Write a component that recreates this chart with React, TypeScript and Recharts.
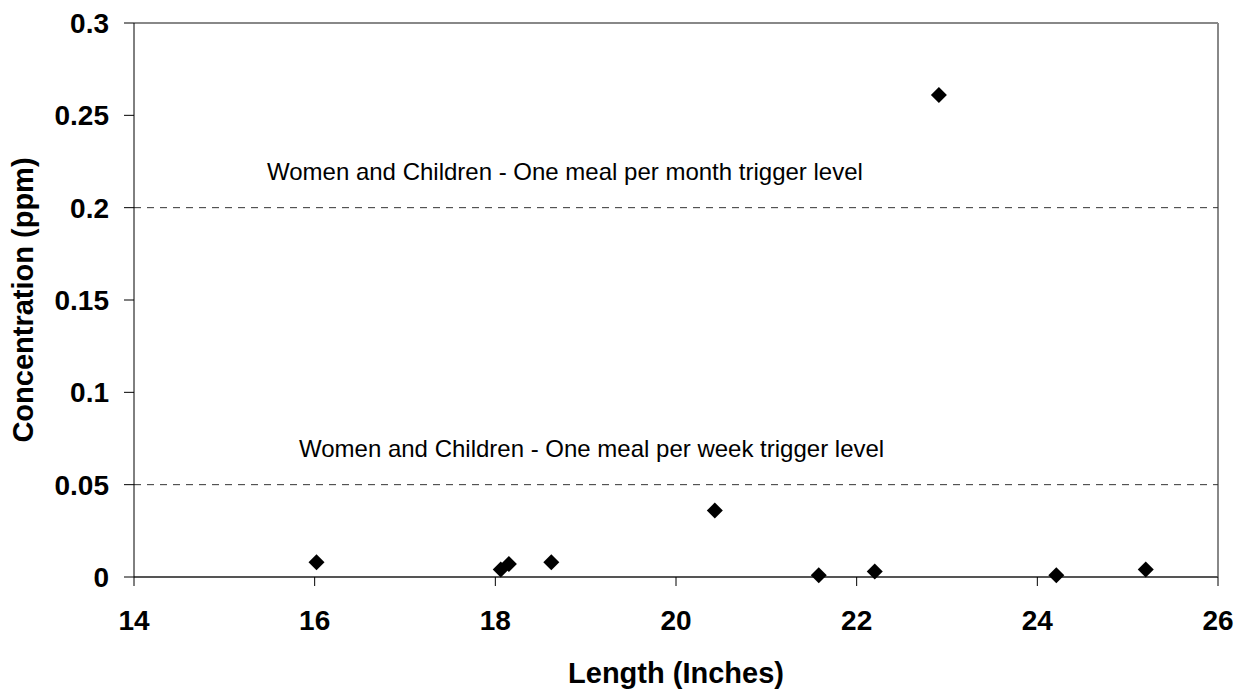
import React from "react";
import {
  ScatterChart,
  Scatter,
  XAxis,
  YAxis,
  ReferenceLine,
  Label,
} from "recharts";

const lengths = [16.02, 18.06, 18.15, 18.62, 20.43, 21.58, 22.2, 22.91, 24.21, 25.2];
const concentrations = [0.008, 0.004, 0.007, 0.008, 0.036, 0.001, 0.003, 0.261, 0.001, 0.004];

const xTicks = [14, 16, 18, 20, 22, 24, 26];
const yTicks = [0, 0.05, 0.1, 0.15, 0.2, 0.25, 0.3];

const triggerLevels = [0.2, 0.05];
const triggerLabels = [
  "Women and Children - One meal per month trigger level",
  "Women and Children - One meal per week trigger level",
];

const FONT = '"Liberation Sans", Arial, sans-serif';

const points = lengths.map((length, i) => ({ length, conc: concentrations[i] }));

const Diamond = (props: any) => {
  const { cx, cy } = props;
  const r = 8;
  return (
    <polygon
      points={`${cx},${cy - r} ${cx + r},${cy} ${cx},${cy + r} ${cx - r},${cy}`}
      fill="#000"
    />
  );
};

export default function App() {
  const tickStyle = { fontFamily: FONT, fontSize: 28, fontWeight: "bold", fill: "#000" };
  const titleStyle = { fontFamily: FONT, fontSize: 29, fontWeight: "bold" };

  return (
    <div style={{ position: "absolute", left: 0, top: 0, background: "#fff" }}>
      <ScatterChart
        width={1236}
        height={692}
        margin={{ top: 23, right: 18, bottom: 0, left: 0 }}
      >
        <XAxis
          type="number"
          dataKey="length"
          domain={[14, 26]}
          ticks={xTicks}
          height={115}
          tickSize={9}
          tickMargin={24}
          tick={tickStyle}
          axisLine={{ stroke: "#555", strokeWidth: 2 }}
          tickLine={{ stroke: "#000" }}
        >
          <Label
            content={(p: any) => {
              const vb = p.viewBox;
              return (
                <text
                  x={vb.x + vb.width / 2}
                  y={vb.y + 106}
                  textAnchor="middle"
                  style={titleStyle}
                  fill="#000"
                >
                  Length (Inches)
                </text>
              );
            }}
          />
        </XAxis>
        <YAxis
          type="number"
          dataKey="conc"
          domain={[0, 0.3]}
          ticks={yTicks}
          width={134}
          tickSize={10}
          tickMargin={15}
          tick={tickStyle}
          axisLine={{ stroke: "#000" }}
          tickLine={{ stroke: "#000" }}
        >
          <Label
            content={(p: any) => {
              const vb = p.viewBox;
              const cx = 33;
              const cy = vb.y + vb.height / 2;
              return (
                <text
                  x={cx}
                  y={cy}
                  textAnchor="middle"
                  transform={`rotate(-90, ${cx}, ${cy})`}
                  style={titleStyle}
                  fill="#000"
                >
                  Concentration (ppm)
                </text>
              );
            }}
          />
        </YAxis>
        <ReferenceLine y={0.3} stroke="#888" strokeWidth={2} />
        <ReferenceLine x={26} stroke="#888" strokeWidth={2} />
        {triggerLevels.map((level, i) => (
          <ReferenceLine
            key={level}
            y={level}
            stroke="#333"
            strokeDasharray="7 6"
            label={(p: any) => {
              const vb = p.viewBox;
              return (
                <text
                  x={vb.x + (i === 0 ? 133 : 165)}
                  y={vb.y - 28}
                  style={{ fontFamily: FONT, fontSize: 24 }}
                  fill="#000"
                >
                  {triggerLabels[i]}
                </text>
              );
            }}
          />
        ))}
        <Scatter data={points} shape={Diamond} isAnimationActive={false} />
      </ScatterChart>
    </div>
  );
}
